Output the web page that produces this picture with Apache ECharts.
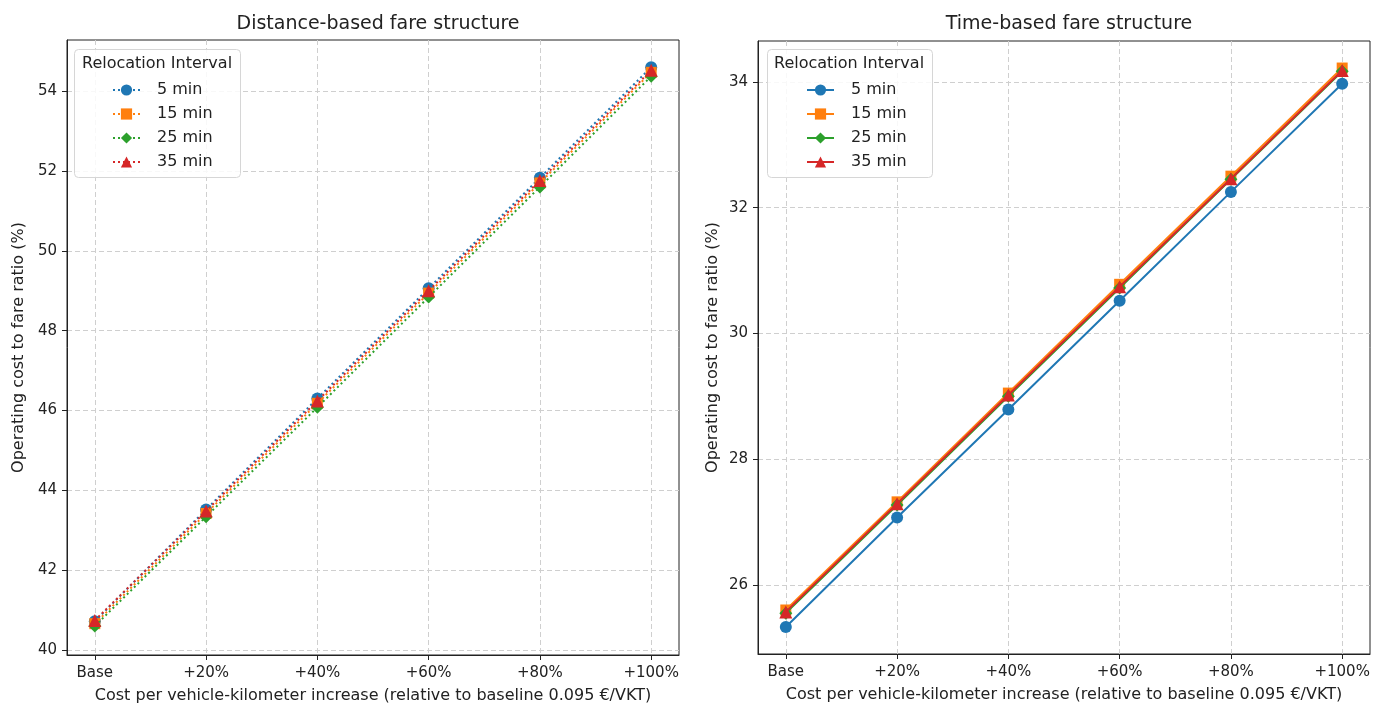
<!DOCTYPE html>
<html>
<head>
<meta charset="utf-8">
<script src="https://cdn.jsdelivr.net/npm/echarts@6/dist/echarts.min.js"></script>
<style>
html,body{margin:0;padding:0;background:#fff;}
#chart{width:1373px;height:703px;}
</style>
</head>
<body>
<div id="chart"></div>
<script>
// ---- Data ----
const categories = ['Base', '+20%', '+40%', '+60%', '+80%', '+100%'];
const seriesNames = ['5 min', '15 min', '25 min', '35 min'];

// Distance-based fare structure (%)
const dist5  = [40.72, 43.52, 46.30, 49.06, 51.83, 54.60];
const dist15 = [40.66, 43.42, 46.18, 48.94, 51.70, 54.47];
const dist25 = [40.60, 43.34, 46.08, 48.84, 51.60, 54.37];
const dist35 = [40.74, 43.48, 46.24, 49.00, 51.76, 54.52];

// Time-based fare structure (%)
const time5  = [25.33, 27.07, 28.79, 30.52, 32.25, 33.97];
const time15 = [25.60, 27.32, 29.05, 30.78, 32.50, 34.22];
const time25 = [25.55, 27.27, 29.00, 30.72, 32.45, 34.17];
const time35 = [25.57, 27.29, 29.02, 30.74, 32.46, 34.18];

const leftTicks = [40, 42, 44, 46, 48, 50, 52, 54];
const rightTicks = [26, 28, 30, 32, 34];
const xTicks = [0, 1, 2, 3, 4, 5];

// ---- Styles ----
const colors = ['#1f77b4', '#ff7f0e', '#2ca02c', '#d62728'];
const symbols = ['circle', 'rect', 'diamond', 'triangle'];
const symbolSizes = [12, 11, 13, 13];
const FONT = 'DejaVu Sans';

const distData = [dist5, dist15, dist25, dist35];
const timeData = [time5, time15, time25, time35];

function toPts(arr) { return arr.map((v, i) => [i, v]); }

const gridLine = { show: true, lineStyle: { color: '#cfcfcf', type: [5, 3], width: 1 } };
const axisLine = { show: true, onZero: false, lineStyle: { color: '#222', width: 1 } };
const axisTick = { show: true, length: 5, lineStyle: { color: '#222' } };
const labelStyle = { color: '#222', fontFamily: FONT, fontSize: 15 };
const nameStyle = { color: '#222', fontFamily: FONT, fontSize: 16 };

function xAxis(gi) {
  return {
    type: 'value', gridIndex: gi, min: -0.25, max: 5.25,
    axisLine, axisTick: Object.assign({ customValues: xTicks }, axisTick),
    axisLabel: Object.assign({ customValues: xTicks, margin: 11, formatter: v => categories[Math.round(v)] }, labelStyle),
    splitLine: gridLine,
    name: 'Cost per vehicle-kilometer increase (relative to baseline 0.095 €/VKT)',
    nameLocation: 'middle', nameGap: 33,
    nameTextStyle: nameStyle
  };
}
function yAxis(gi, min, max, ticks, gap) {
  return {
    type: 'value', gridIndex: gi, min, max,
    axisLine, axisTick: Object.assign({ customValues: ticks }, axisTick),
    axisLabel: Object.assign({ customValues: ticks, margin: 10 }, labelStyle),
    splitLine: gridLine,
    name: 'Operating cost to fare ratio (%)',
    nameLocation: 'middle', nameGap: gap, nameRotate: 90,
    nameTextStyle: nameStyle
  };
}

const series = [];
distData.forEach((d, i) => {
  series.push({
    name: seriesNames[i], type: 'line', xAxisIndex: 0, yAxisIndex: 0,
    data: toPts(d), symbol: symbols[i], symbolSize: symbolSizes[i],
    lineStyle: { color: colors[i], width: 2, type: [2, 3] },
    itemStyle: { color: colors[i] }, z: 2 + i, animation: false
  });
});
timeData.forEach((d, i) => {
  series.push({
    name: 'T ' + seriesNames[i], type: 'line', xAxisIndex: 1, yAxisIndex: 1,
    data: toPts(d), symbol: symbols[i], symbolSize: symbolSizes[i],
    lineStyle: { color: colors[i], width: 2 },
    itemStyle: { color: colors[i] }, z: 2 + i, animation: false
  });
});

function legend(left, names) {
  return {
    left, top: 77, orient: 'vertical', itemWidth: 27, itemHeight: 14, itemGap: 8,
    data: names, selectedMode: false, z: 30,
    formatter: n => n.replace(/^T /, ''),
    textStyle: { color: '#222', fontFamily: FONT, fontSize: 16, padding: [0, 0, 0, 12] }
  };
}

const option = {
  backgroundColor: '#fff',
  animation: false,
  title: [
    { text: 'Distance-based fare structure', left: 373, top: 10, textAlign: 'center',
      textStyle: { fontFamily: FONT, fontSize: 19, fontWeight: 'normal', color: '#222' } },
    { text: 'Time-based fare structure', left: 1064, top: 10, textAlign: 'center',
      textStyle: { fontFamily: FONT, fontSize: 19, fontWeight: 'normal', color: '#222' } }
  ],
  grid: [
    { left: 67, right: 694, top: 40, bottom: 48, show: true, borderColor: '#222', borderWidth: 1,
      backgroundColor: 'transparent', containLabel: false, outerBoundsMode: 'none' },
    { left: 758, right: 3, top: 41, bottom: 49, show: true, borderColor: '#222', borderWidth: 1,
      backgroundColor: 'transparent', containLabel: false, outerBoundsMode: 'none' }
  ],
  xAxis: [xAxis(0), xAxis(1)],
  yAxis: [
    yAxis(0, 39.875, 55.28, leftTicks, 40),
    yAxis(1, 24.9, 34.65, rightTicks, 37)
  ],
  legend: [
    legend(107, seriesNames),
    legend(801, seriesNames.map(n => 'T ' + n))
  ],
  graphic: [
    { type: 'rect', left: 74, top: 49, shape: { width: 166, height: 128, r: 4 },
      style: { fill: 'rgba(255,255,255,0.85)', stroke: '#d6d6d6', lineWidth: 1 }, z: 10 },
    { type: 'text', left: 82, top: 56, style: { text: 'Relocation Interval', fontFamily: FONT, fontSize: 16, fill: '#222' }, z: 11 },
    { type: 'rect', left: 767, top: 49, shape: { width: 165, height: 128, r: 4 },
      style: { fill: 'rgba(255,255,255,0.85)', stroke: '#d6d6d6', lineWidth: 1 }, z: 10 },
    { type: 'text', left: 774, top: 56, style: { text: 'Relocation Interval', fontFamily: FONT, fontSize: 16, fill: '#222' }, z: 11 }
  ],
  series
};

const chart = echarts.init(document.getElementById('chart'), null, { renderer: 'canvas' });
chart.setOption(option);
</script>
</body>
</html>
